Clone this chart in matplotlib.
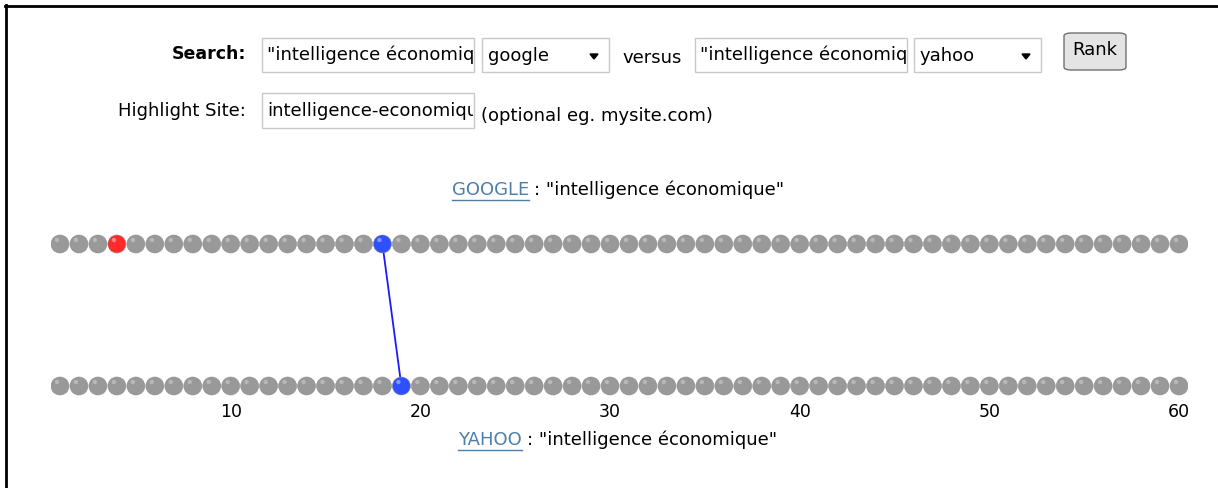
import numpy as np
import matplotlib.pyplot as plt
import matplotlib.transforms as mtransforms
from matplotlib.patches import Rectangle, FancyBboxPatch, Polygon

W, H = 1218, 488
positions = np.arange(1, 61)
google_rank = 18
yahoo_rank = 19
highlight_rank = 4
tick_values = [10, 20, 30, 40, 50, 60]
query = '"intelligence économique"'
site = 'intelligence-economique'

plt.rcParams['font.family'] = ['DejaVu Sans']
fig = plt.figure(figsize=(W / 100, H / 100), dpi=100)
renderer = fig.canvas.get_renderer()


def fx(x):
    return x / W


def fy(y):
    return 1 - y / H


def box(x0, y0, x1, y1, **kw):
    r = Rectangle((fx(x0), fy(y1)), fx(x1 - x0), (y1 - y0) / H,
                  transform=fig.transFigure, **kw)
    fig.add_artist(r)
    return r


def clip_px(t, x0, y0, x1, y1):
    # text boxes cut their content like the html inputs do
    bb = mtransforms.Bbox.from_extents(x0 + 1, H - y1 + 1, x1 - 1, H - y0 - 1)
    t.set_clip_box(bb)
    t.set_clip_on(True)


# frame
fig.add_artist(plt.Line2D([fx(5), 1], [fy(6), fy(6)], color='black', lw=2, transform=fig.transFigure))
fig.add_artist(plt.Line2D([fx(6), fx(6)], [fy(5), 0], color='black', lw=2, transform=fig.transFigure))

fs = 13
# form row 1
fig.text(fx(246), fy(54), 'Search:', ha='right', va='center', fontsize=fs - 0.5, fontweight='bold')
for x0, x1, txt in [(262, 474, query), (695, 907, query)]:
    box(x0, 38, x1, 72, facecolor='white', edgecolor='#c8c8c8', lw=1)
    t = fig.text(fx(x0 + 5), fy(55), txt, ha='left', va='center', fontsize=fs)
    clip_px(t, x0, 38, x1, 72)
for x0, x1, txt in [(482, 609, 'google'), (914, 1041, 'yahoo')]:
    box(x0, 38, x1, 72, facecolor='white', edgecolor='#c8c8c8', lw=1)
    fig.text(fx(x0 + 6), fy(56), txt, ha='left', va='center', fontsize=fs)
    ax_ = x1 - 15
    fig.add_artist(Polygon([[fx(ax_ - 4), fy(54)], [fx(ax_ + 4), fy(54)], [fx(ax_), fy(59)]],
                           closed=True, color='black', transform=fig.transFigure))
fig.text(fx(652), fy(58), 'versus', ha='center', va='center', fontsize=fs)
btn = FancyBboxPatch((fx(1064), fy(70)), fx(62), 37 / H, boxstyle='round,pad=0,rounding_size=0.006',
                     facecolor='#e4e4e4', edgecolor='#707070', lw=1, transform=fig.transFigure)
fig.add_artist(btn)
fig.text(fx(1095), fy(50), 'Rank', ha='center', va='center', fontsize=fs)

# form row 2
fig.text(fx(246), fy(111), 'Highlight Site:', ha='right', va='center', fontsize=fs)
box(262, 93, 474, 128, facecolor='white', edgecolor='#c8c8c8', lw=1)
t = fig.text(fx(267), fy(111), site, ha='left', va='center', fontsize=fs)
clip_px(t, 262, 93, 474, 128)
fig.text(fx(481), fy(116), '(optional eg. mysite.com)', ha='left', va='center', fontsize=fs)

# engine headers
link_color = '#4d7fa8'
for xl, yc, name in [(452, 190, 'GOOGLE'), (458, 440, 'YAHOO')]:
    t1 = fig.text(fx(xl), fy(yc), name, ha='left', va='center', fontsize=fs, color=link_color)
    ext = t1.get_window_extent(renderer)
    xr = xl + ext.width
    fig.add_artist(plt.Line2D([fx(xl), fx(xr)], [fy(yc + 10), fy(yc + 10)], color=link_color,
                              lw=1, transform=fig.transFigure))
    fig.text(fx(xr + 5), fy(yc), ': ' + query, ha='left', va='center', fontsize=fs)

# rank dots
row_top, row_bot = 244, 386
span = row_bot - row_top
ax = fig.add_axes([fx(60 - 0.5 * 18.966), fy(row_bot + 0.1 * span),
                   fx(60 * 18.966), 1.2 * span / H])
ax.set_xlim(0.5, 60.5)
ax.set_ylim(-0.1, 1.1)
for s in ax.spines.values():
    s.set_visible(False)
ax.set_yticks([])
ax.set_xticks(tick_values)
ax.tick_params(axis='x', length=0, pad=2, labelsize=12.5)

size = 168
hl = mtransforms.offset_copy(ax.transData, fig=fig, x=-3, y=4, units='dots')


def draw_row(yv, marks):
    colors = ['#999999'] * len(positions)
    hcol = ['#c0c0c0'] * len(positions)
    for rank, c, h in marks:
        colors[rank - 1] = c
        hcol[rank - 1] = h
    ax.scatter(positions, np.full(len(positions), yv), s=size, c=colors,
               edgecolors='#8e8e8e', linewidths=0.4, zorder=3)
    ax.scatter(positions, np.full(len(positions), yv), s=10, c=hcol, linewidths=0,
               zorder=4, transform=hl, alpha=0.8)


ax.plot([google_rank, yahoo_rank], [1, 0], color='#1a1aff', lw=1.3, zorder=2)
draw_row(1, [(highlight_rank, '#ff2a2a', '#ff9a9a'), (google_rank, '#2f50ff', '#9aaaff')])
draw_row(0, [(yahoo_rank, '#2f50ff', '#9aaaff')])

fig.savefig('out.png', dpi=100)
